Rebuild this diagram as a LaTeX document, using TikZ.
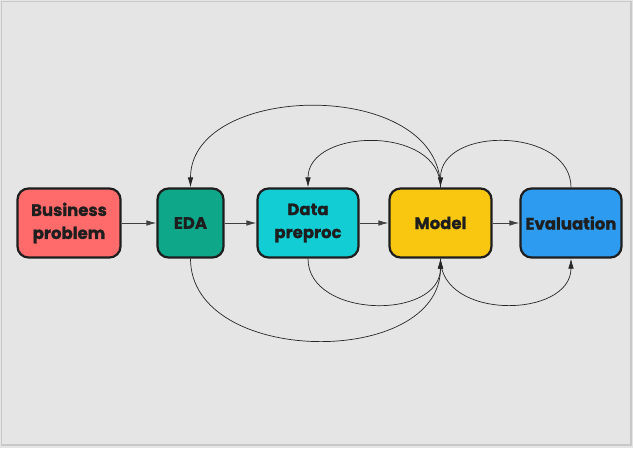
\documentclass[tikz,border=0pt]{standalone}
\usepackage{fontspec}
\setmainfont{Poppins}[BoldFeatures={FakeBold=1.2}]
\usetikzlibrary{arrows.meta}
\definecolor{bgc}{HTML}{E5E5E5}
\definecolor{bdc}{HTML}{C8C8C8}
\definecolor{cred}{HTML}{FF6B6B}
\definecolor{cteal}{HTML}{0EA789}
\definecolor{ccyan}{HTML}{12CDD4}
\definecolor{cyel}{HTML}{F9C710}
\definecolor{cblue}{HTML}{2D9BEF}
\definecolor{ink}{HTML}{1E1E1E}
\tikzset{
  box/.style={draw=ink, line width=2.2pt, rounded corners=11pt, minimum height=69pt,
    align=center, font=\bfseries\fontsize{16.5}{23}\selectfont, text=ink, inner sep=1pt},
  flow/.style={draw=black!75, line width=0.8pt, -{Latex[length=10pt,width=5.5pt]}},
  loop/.style={draw=black!85, line width=0.7pt, -{Latex[length=10pt,width=5.5pt]}}
}
\begin{document}
\begin{tikzpicture}[x=1pt,y=-1pt]
\useasboundingbox (0,0) rectangle (633,448);
\fill[bgc] (0,0) rectangle (633,448);
\draw[bdc, line width=1.5pt] (1.5,1.5) rectangle (631,445);
\node[box, fill=cred, minimum width=103pt] (bp) at (69,223) {Business\\problem};
\node[box, fill=cteal, minimum width=66pt] (eda) at (190.5,223) {EDA};
\node[box, fill=ccyan, minimum width=101pt] (dp) at (308,223) {Data\\preproc};
\node[box, fill=cyel, minimum width=102pt] (mo) at (440.5,223) {Model};
\node[box, fill=cblue, minimum width=101pt] (ev) at (571,223) {Evaluation};
\draw[flow] (bp) -- (eda);
\draw[flow] (eda) -- (dp);
\draw[flow] (dp) -- (mo);
\draw[flow] (mo) -- (ev);
% top arcs
\draw[loop] (mo.north) .. controls +(0,-110) and +(0,-106) .. (eda.north);
\draw[loop] (mo.north) .. controls +(0,-62) and +(0,-60) .. (dp.north);
\draw[loop] (ev.north) .. controls +(0,-60) and +(0,-62) .. (mo.north);
% bottom arcs
\draw[loop] (eda.south) .. controls +(0,108) and +(0,110) .. (mo.south);
\draw[loop] (dp.south) .. controls +(0,60) and +(0,62) .. (mo.south);
\draw[loop] (mo.south) .. controls +(0,62) and +(0,60) .. (ev.south);
\end{tikzpicture}
\end{document}
